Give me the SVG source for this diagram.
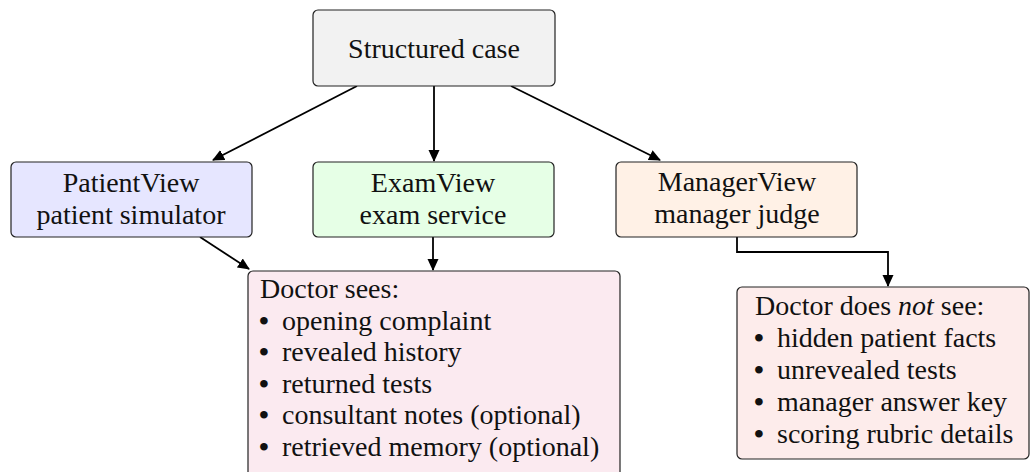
<svg xmlns="http://www.w3.org/2000/svg" width="1031" height="472" viewBox="0 0 1031 472">
<defs>
<style>
.box{stroke:#222;stroke-width:1.2}
.t{font-family:"Liberation Serif","Times New Roman",serif;font-size:28px;fill:#111}
.c{text-anchor:middle}
.b{font-weight:bold}
.e{fill:none;stroke:#000;stroke-width:1.8}
</style>
<marker id="ah" viewBox="0 0 12 12" refX="11" refY="6" markerWidth="12" markerHeight="12" markerUnits="userSpaceOnUse" orient="auto">
<path d="M0,0.5 L12,6 L0,11.5 Z" fill="#000"/>
</marker>
</defs>
<rect width="1031" height="472" fill="#fff"/>
<g id="connectors">
<path class="e" d="M357,86 L213,160" marker-end="url(#ah)"/>
<path class="e" d="M434,86 L434,161" marker-end="url(#ah)"/>
<path class="e" d="M511,86 L660,160" marker-end="url(#ah)"/>
<path class="e" d="M200,237 L249,269" marker-end="url(#ah)"/>
<path class="e" d="M433,237 L433,270" marker-end="url(#ah)"/>
<path class="e" d="M737,237 L737,252 L888,252 L888,286" marker-end="url(#ah)"/>
</g>
<g id="structured">
<rect class="box" x="313" y="10" width="242" height="76" rx="5" fill="#f2f2f2"/>
<text class="t c" x="434" y="58">Structured case</text>
</g>
<g id="patientview">
<rect class="box" x="11" y="162" width="241" height="75" rx="5" fill="#e6e6ff"/>
<text class="t c" x="131" y="192">PatientView</text>
<text class="t c" x="131" y="224">patient simulator</text>
</g>
<g id="examview">
<rect class="box" x="313" y="162" width="241" height="75" rx="5" fill="#e6ffe6"/>
<text class="t c" x="433" y="192">ExamView</text>
<text class="t c" x="433" y="224">exam service</text>
</g>
<g id="managerview">
<rect class="box" x="616" y="162" width="241" height="75" rx="5" fill="#fff1e6"/>
<text class="t c" x="737" y="191">ManagerView</text>
<text class="t c" x="737" y="223">manager judge</text>
</g>
<g id="doctorsees">
<rect class="box" x="248" y="271" width="372" height="215" rx="5" fill="#fbeaf0"/>
<text class="t" x="260" y="298">Doctor sees:</text>
<text class="t" y="330"><tspan class="b" x="259">•</tspan><tspan x="282">opening complaint</tspan></text>
<text class="t" y="361"><tspan class="b" x="259">•</tspan><tspan x="282">revealed history</tspan></text>
<text class="t" y="393"><tspan class="b" x="259">•</tspan><tspan x="282">returned tests</tspan></text>
<text class="t" y="424"><tspan class="b" x="259">•</tspan><tspan x="282">consultant notes (optional)</tspan></text>
<text class="t" y="456"><tspan class="b" x="259">•</tspan><tspan x="282">retrieved memory (optional)</tspan></text>
</g>
<g id="doctornotsee">
<rect class="box" x="737" y="287" width="292" height="172" rx="5" fill="#fdeceb"/>
<text class="t" x="755" y="315">Doctor does <tspan font-style="italic">not</tspan> see:</text>
<text class="t" y="347"><tspan class="b" x="754">•</tspan><tspan x="777">hidden patient facts</tspan></text>
<text class="t" y="379"><tspan class="b" x="754">•</tspan><tspan x="777">unrevealed tests</tspan></text>
<text class="t" y="411"><tspan class="b" x="754">•</tspan><tspan x="777">manager answer key</tspan></text>
<text class="t" y="443"><tspan class="b" x="754">•</tspan><tspan x="777">scoring rubric details</tspan></text>
</g>
</svg>
